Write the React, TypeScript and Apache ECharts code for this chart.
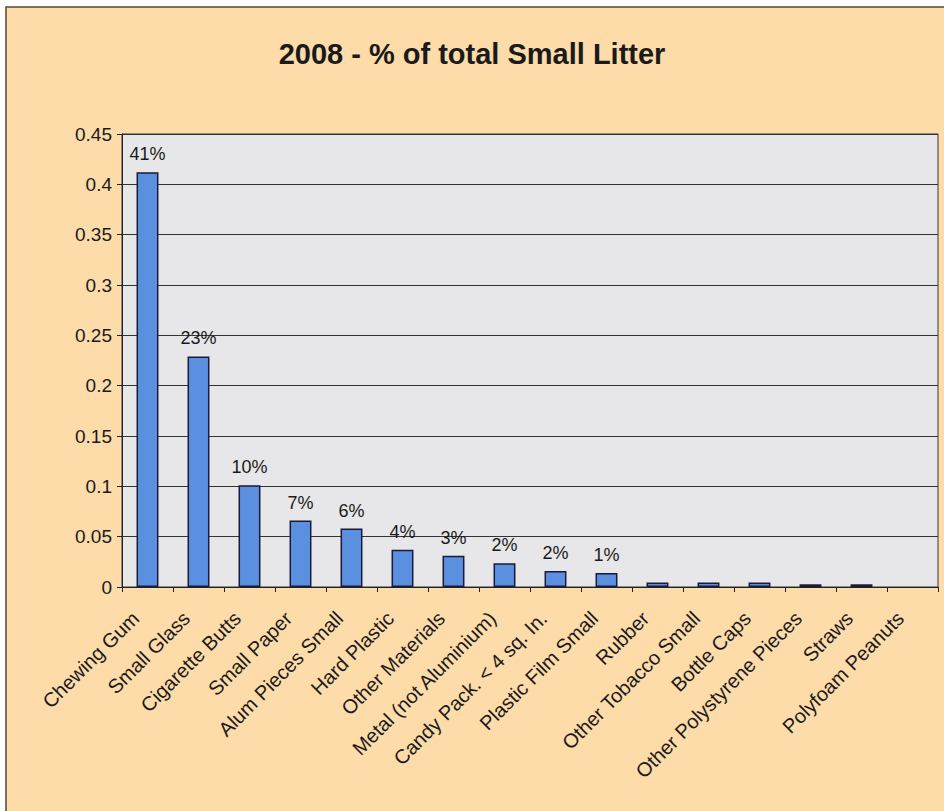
import React, { useEffect, useRef } from "react";
import * as echarts from "echarts";

const titleText = "2008 - % of total Small Litter";
const categories = [
  "Chewing Gum",
  "Small Glass",
  "Cigarette Butts",
  "Small Paper",
  "Alum Pieces Small",
  "Hard Plastic",
  "Other Materials",
  "Metal (not Aluminium)",
  "Candy Pack. < 4 sq. In.",
  "Plastic Film Small",
  "Rubber",
  "Other Tobacco Small",
  "Bottle Caps",
  "Other Polystyrene Pieces",
  "Straws",
  "Polyfoam Peanuts",
];
const values = [
  0.412, 0.229, 0.101, 0.066, 0.058, 0.037, 0.031, 0.0235, 0.016, 0.014,
  0.0045, 0.0045, 0.0045, 0.0027, 0.0027, 0,
];
const yTicks = [0, 0.05, 0.1, 0.15, 0.2, 0.25, 0.3, 0.35, 0.4, 0.45];

export default function App() {
  const ref = useRef<HTMLDivElement>(null);
  useEffect(() => {
    if (!ref.current) return;
    const chart = echarts.init(ref.current, null, { renderer: "svg" });
    const font = "Liberation Sans, Arial, sans-serif";
    const seriesData = values.map((v) =>
      v === 0 ? { value: v, itemStyle: { borderWidth: 0, opacity: 0 } } : v
    );
    chart.setOption({
      animation: false,
      backgroundColor: "#ffffff",
      graphic: [
        {
          type: "rect",
          z: -10,
          shape: { x: 6, y: 7, width: 960, height: 820 },
          style: { fill: "#FDDCAA", stroke: "#5a4535", lineWidth: 1.5 },
        },
      ],
      title: {
        text: titleText,
        left: "center",
        top: 34,
        textStyle: {
          fontFamily: font,
          fontSize: 29,
          fontWeight: "bold",
          color: "#1a1a1a",
        },
      },
      grid: {
        left: 122,
        right: 6,
        top: 134,
        bottom: 224,
        show: true,
        backgroundColor: "#E7E7E9",
        borderColor: "#333333",
        borderWidth: 1,
      },
      xAxis: {
        type: "category",
        data: categories,
        boundaryGap: true,
        axisLine: { show: true, lineStyle: { color: "#222", width: 1 } },
        axisTick: {
          show: true,
          alignWithLabel: false,
          length: 5,
          lineStyle: { color: "#222" },
        },
        axisLabel: {
          interval: 0,
          rotate: 45,
          margin: 16,
          padding: [0, 17, 0, 0],
          fontFamily: font,
          fontSize: 20,
          color: "#1a1a1a",
        },
      },
      yAxis: {
        type: "value",
        min: 0,
        max: 0.45,
        interval: 0.05,
        axisLine: { show: true, lineStyle: { color: "#222", width: 1 } },
        axisTick: { show: true, length: 5, lineStyle: { color: "#222" } },
        splitLine: { show: true, lineStyle: { color: "#333", width: 1 } },
        axisLabel: {
          margin: 10,
          fontFamily: font,
          fontSize: 19,
          color: "#1a1a1a",
          formatter: (v: number) => {
            const t = yTicks.find((x) => Math.abs(x - v) < 1e-9);
            return String(t !== undefined ? t : parseFloat(v.toFixed(2)));
          },
        },
      },
      series: [
        {
          type: "bar",
          data: seriesData,
          barWidth: "43%",
          itemStyle: {
            color: "#5B8FDF",
            borderColor: "#1a1a3a",
            borderWidth: 1.5,
          },
          label: {
            show: true,
            position: "top",
            distance: 9,
            fontFamily: font,
            fontSize: 18,
            color: "#1a1a1a",
            formatter: (p: any) =>
              p.value >= 0.01 ? Math.round(p.value * 100) + "%" : "",
          },
        },
      ],
    });
    return () => chart.dispose();
  }, []);
  return (
    <div
      ref={ref}
      style={{ position: "fixed", left: 0, top: 0, width: 944, height: 811 }}
    />
  );
}
